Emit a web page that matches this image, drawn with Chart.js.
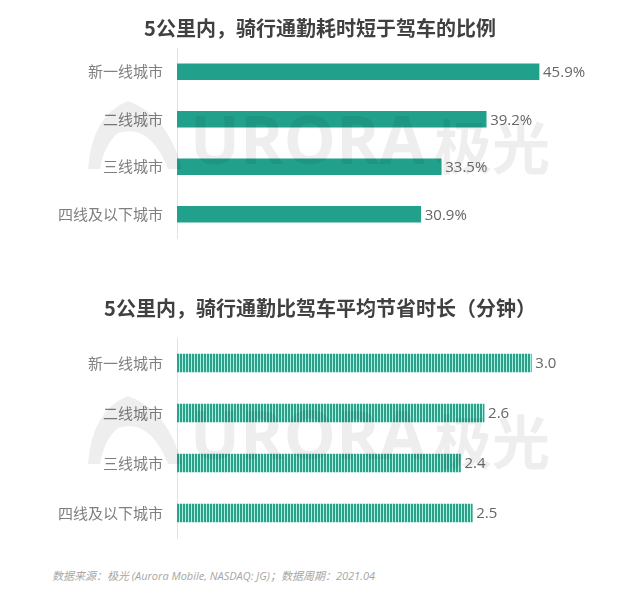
<!DOCTYPE html>
<html>
<head>
<meta charset="utf-8">
<script src="https://cdn.jsdelivr.net/npm/chart.js@4.4.1/dist/chart.umd.min.js"></script>
<style>
  body { margin: 0; background: #fff; width: 640px; height: 591px; position: relative; overflow: hidden; }
  .box { position: absolute; left: 0; width: 640px; }
  #top { top: 0; height: 245px; }
  #bottom { top: 290px; height: 252px; }
  #source {
    position: absolute; left: 52px; top: 567px;
    font: italic 11px "Open Sans", "Noto Sans CJK SC", sans-serif; color: #a6a6a6;
  }
</style>
</head>
<body>
<div class="box" id="top"><canvas id="chart-share"></canvas></div>
<div class="box" id="bottom"><canvas id="chart-saved"></canvas></div>
<div id="source">数据来源：极光 (Aurora Mobile, NASDAQ: JG)；数据周期：2021.04</div>
<script>
// ----------------------------Data----------------------------
const cities = ['新一线城市', '二线城市', '三线城市', '四线及以下城市'];
const shareFaster = [45.9, 39.2, 33.5, 30.9];   // %
const minutesSaved = [3.0, 2.6, 2.4, 2.5];      // minutes

const titleShare = '5公里内，骑行通勤耗时短于驾车的比例';
const titleSaved = '5公里内，骑行通勤比驾车平均节省时长（分钟）';

const teal = '#21a18c';

// striped fill for the second chart
function stripePattern() {
    const c = document.createElement('canvas');
    c.width = 3;
    c.height = 10;
    const g = c.getContext('2d');
    g.fillStyle = '#2e9f8b';
    g.fillRect(0, 0, 2, 10);
    g.fillStyle = '#a8f2e0';
    g.fillRect(2, 0, 1, 10);
    return g.createPattern(c, 'repeat');
}

// faint AURORA watermark, laid over the bars like in the source image
const watermark = {
    id: 'watermark',
    afterDatasetsDraw(chart) {
        const { ctx, chartArea } = chart;
        const cy = (chartArea.top + chartArea.bottom) / 2 + 2;
        ctx.save();
        ctx.fillStyle = 'rgba(0,0,0,0.065)';
        ctx.beginPath();
        ctx.moveTo(88, cy + 24);
        ctx.quadraticCurveTo(92, cy - 30, 128, cy - 44);
        ctx.quadraticCurveTo(168, cy - 30, 182, cy + 24);
        ctx.lineTo(168, cy + 24);
        ctx.quadraticCurveTo(150, cy - 22, 118, cy - 12);
        ctx.quadraticCurveTo(104, cy, 100, cy + 24);
        ctx.closePath();
        ctx.fill();
        ctx.font = 'bold 66px "Open Sans", sans-serif';
        ctx.textBaseline = 'middle';
        ctx.fillText('URORA', 190, cy);
        ctx.font = 'bold 58px "Noto Sans CJK SC", sans-serif';
        ctx.fillText('极光', 434, cy + 2);
        ctx.restore();
    }
};

// value labels at the bar ends
const valueLabels = {
    id: 'valueLabels',
    afterDatasetsDraw(chart, args, opts) {
        const { ctx } = chart;
        const meta = chart.getDatasetMeta(0);
        ctx.save();
        ctx.font = '15px "Open Sans", "Noto Sans", sans-serif';
        ctx.fillStyle = '#666';
        ctx.textBaseline = 'middle';
        meta.data.forEach((bar, i) => {
            const v = chart.data.datasets[0].data[i];
            ctx.fillText(opts.format(v), bar.x + 4, bar.y + 1);
        });
        ctx.restore();
    }
};

function makeOptions(title, max, pad, format) {
    return {
        indexAxis: 'y',
        responsive: true,
        maintainAspectRatio: false,
        animation: false,
        layout: { padding: { left: 0, right: 0, top: 0, bottom: pad.chartBottom } },
        scales: {
            x: { display: false, min: 0, max: max },
            y: {
                afterFit: s => {
                    s.width = 177;
                    s.paddingTop = 0;
                    s.paddingBottom = 0;
                },
                grid: { display: false, drawTicks: false },
                border: { display: true, color: '#e3e3e3', width: 1 },
                ticks: {
                    padding: 14,
                    color: '#7f7f7f',
                    font: { size: 15, family: '"Noto Sans CJK SC", sans-serif' }
                }
            }
        },
        plugins: {
            legend: { display: false },
            tooltip: { enabled: false },
            title: {
                display: true,
                text: title,
                color: '#404040',
                font: { size: 20, weight: 'bold', family: '"Noto Sans CJK SC", sans-serif' },
                padding: { top: pad.top, bottom: pad.bottom }
            },
            valueLabels: { format: format }
        }
    };
}

document.addEventListener('DOMContentLoaded', function() {
    // title block: top + 24 (20px * 1.2) + bottom = 48
    new Chart(document.getElementById('chart-share'), {
        type: 'bar',
        data: {
            labels: cities,
            datasets: [{ data: shareFaster, backgroundColor: teal, barThickness: 16 }]
        },
        options: makeOptions(titleShare, 58.7, { top: 16, bottom: 8, chartBottom: 7 }, v => v.toFixed(1) + '%'),
        plugins: [watermark, valueLabels]
    });

    new Chart(document.getElementById('chart-saved'), {
        type: 'bar',
        data: {
            labels: cities,
            datasets: [{ data: minutesSaved, backgroundColor: stripePattern(), barThickness: 18 }]
        },
        options: makeOptions(titleSaved, 3.92, { top: 6, bottom: 18, chartBottom: 4 }, v => v.toFixed(1)),
        plugins: [watermark, valueLabels]
    });
});
</script>
</body>
</html>
